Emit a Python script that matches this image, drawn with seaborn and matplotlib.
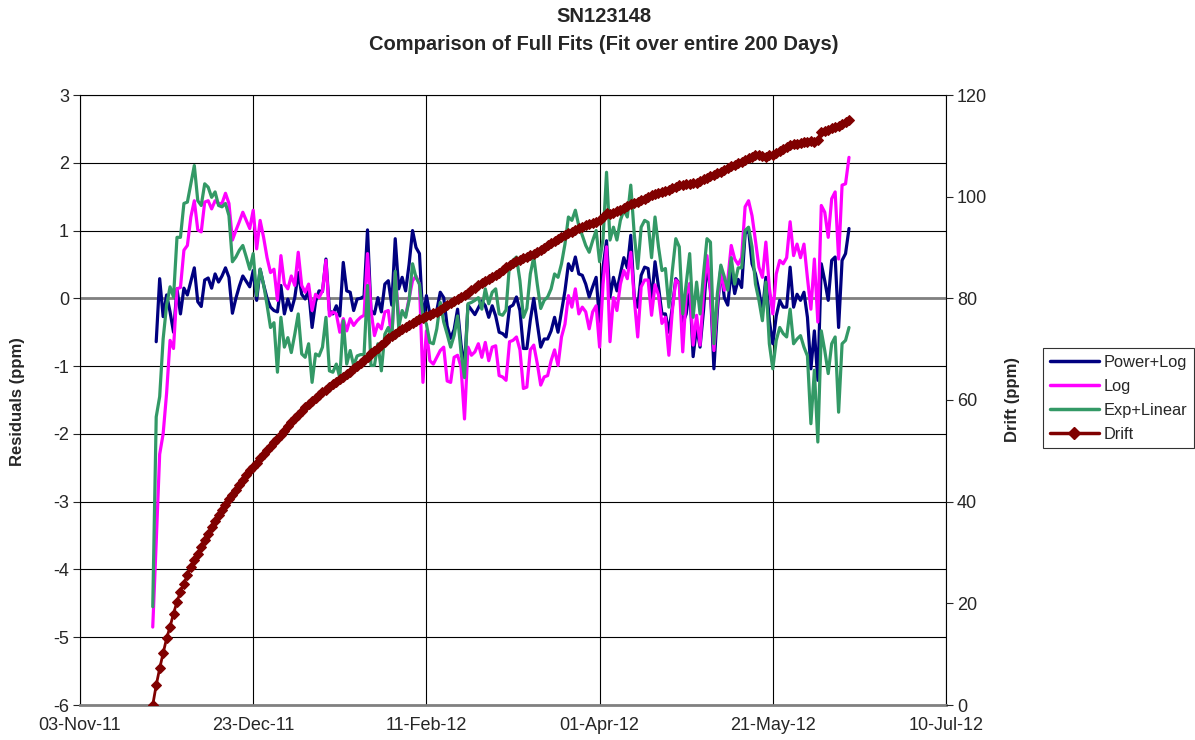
import matplotlib
matplotlib.use("Agg")
import matplotlib.pyplot as plt
import matplotlib.dates as mdates
from matplotlib.lines import Line2D
import seaborn as sns
import pandas as pd
import numpy as np

# daily readings, 24-Nov-2011 onwards
start_date = "2011-11-24"
series_names = ["Power+Log", "Log", "Exp+Linear"]
series_colors = ["#000080", "#FF00FF", "#339966"]
drift_color = "#800000"

power_log = [
    np.nan, -0.64, 0.29, -0.27, 0.05, -0.2, -0.5, 0.14, -0.23, 0.15, 0.05,
    0.25, 0.45, -0.05, -0.12, 0.27, 0.3, 0.15, 0.36, 0.24, 0.33,
    0.45, 0.31, -0.22, 0.0, 0.18, 0.33, 0.25, 0.17, 0.41, -0.03,
    0.43, 0.2, 0.0, -0.13, -0.18, -0.2, 0.19, -0.23, -0.01, -0.18,
    0.01, 0.38, 0.06, -0.01, 0.12, -0.43, -0.05, 0.11, 0.1, 0.58,
    -0.18, -0.23, -0.11, -0.26, 0.53, 0.11, 0.09, -0.18, -0.01, 0.0,
    0.03, 1.01, -0.18, -0.23, 0.01, -0.2, 0.21, 0.26, -0.1, 0.88,
    0.14, 0.31, 0.11, 0.5, 1.0, 0.75, 0.66, -0.33, 0.04, -0.23,
    -0.26, -0.18, 0.09, 0.01, -0.41, -0.59, -0.46, -0.16, -0.68, -1.03,
    -0.1, -0.17, -0.24, -0.14, -0.04, -0.11, -0.28, -0.11, -0.26, -0.5,
    -0.52, -0.57, -0.13, -0.1, 0.02, -0.18, -0.74, -0.74, -0.32, 0.0,
    -0.37, -0.72, -0.6, -0.6, -0.48, -0.28, -0.5, -0.19, 0.11, 0.51,
    0.41, 0.61, 0.36, 0.34, 0.21, 0.02, 0.17, 0.31, -0.35, 0.46,
    0.85, 0.02, 0.31, 0.11, 0.36, 0.6, 0.45, 0.93, 0.02, -0.13,
    0.34, 0.46, 0.44, -0.03, 0.54, 0.17, -0.23, -0.23, -0.5, -0.13,
    0.29, 0.22, -0.37, -0.23, 0.17, -0.86, -0.42, -0.72, -0.18, 0.51,
    0.12, -1.04, -0.18, 0.46, 0.01, -0.1, 0.41, 0.07, 0.28, 0.16,
    0.95, 1.02, 0.51, 0.36, 0.11, -0.21, 0.31, -0.33, -0.67, -0.26,
    -0.03, -0.13, -0.13, 0.46, -0.13, 0.06, -0.03, 0.09, -0.28, -1.04,
    -0.48, -1.21, 0.51, 0.26, -0.03, 0.56, 0.61, -0.43, 0.56, 0.66,
    1.03,
]

log_fit = [
    -4.85, -3.6, -2.3, -2.0, -1.4, -0.62, -0.74, 0.14, 0.16, 0.71, 0.78,
    1.2, 1.44, 1.01, 0.98, 1.42, 1.44, 1.32, 1.44, 1.4, 1.4,
    1.55, 1.4, 0.86, 1.0, 1.13, 1.27, 1.15, 1.03, 1.3, 0.73,
    1.15, 0.9, 0.6, 0.38, 0.43, -0.03, 0.63, 0.21, 0.14, 0.33,
    0.19, 0.68, 0.19, 0.09, 0.21, -0.18, 0.06, 0.01, 0.11, 0.56,
    -0.26, -0.2, -0.23, -0.5, -0.3, -0.48, -0.3, -0.4, -0.33, -0.28,
    -0.25, 0.66, -0.18, -0.55, -0.38, -0.45, -0.2, -0.18, -0.6, 0.38,
    -0.28, -0.21, -0.26, 0.0, 0.26, 0.33, 0.21, -1.24, -0.48, -0.92,
    -0.97, -0.87, -0.77, -0.72, -1.22, -1.24, -0.87, -0.84, -1.01, -1.78,
    -0.72, -0.84, -0.79, -0.67, -0.87, -0.65, -0.92, -0.72, -0.7, -1.14,
    -1.16, -1.21, -0.64, -0.62, -0.57, -0.76, -1.33, -1.31, -0.76, -0.69,
    -0.96, -1.28, -1.16, -1.14, -0.92, -0.76, -0.99, -0.57, -0.38, 0.04,
    -0.13, 0.14, -0.23, -0.13, -0.2, -0.45, -0.2, -0.11, -0.72, 0.21,
    0.76, -0.64, 0.01, -0.18, 0.21, 0.41, 0.29, 0.68, 0.0, -0.57,
    0.17, 0.27, 0.27, -0.25, 0.2, 0.05, -0.37, -0.28, -0.84, -0.18,
    0.27, 0.22, -0.79, 0.05, 0.22, -0.69, -0.25, -0.69, 0.08, 0.63,
    0.12, -0.77, -0.05, 0.37, 0.12, 0.27, 0.78, 0.58, 0.5, 0.6,
    1.35, 1.44, 1.22, 0.85, 0.46, 0.31, 0.83, 0.16, -0.23, 0.36,
    0.56, 0.51, 0.6, 1.13, 0.63, 0.8, 0.6, 0.8, 0.3, -0.16,
    0.58, -0.35, 1.37, 1.27, 0.9, 1.47, 1.57, 0.58, 1.67, 1.69,
    2.08,
]

exp_linear = [
    -4.55, -1.75, -1.45, -0.6, -0.1, 0.17, 0.02, 0.9, 0.9, 1.4, 1.42,
    1.69, 1.96, 1.44, 1.37, 1.69, 1.64, 1.49, 1.57, 1.37, 1.35,
    1.4, 1.22, 0.54, 0.61, 0.71, 0.78, 0.61, 0.43, 0.66, 0.04,
    0.43, 0.2, -0.1, -0.43, -0.36, -1.09, -0.28, -0.72, -0.58, -0.8,
    -0.53, -0.23, -0.82, -0.87, -0.67, -1.24, -0.82, -0.85, -0.72, -0.28,
    -1.07, -1.09, -0.97, -1.17, -0.33, -0.97, -0.77, -0.99, -0.85, -0.83,
    -0.83, 0.19, -0.99, -0.99, -0.67, -1.07, -0.53, -0.43, -0.6, 0.4,
    -0.43, -0.18, -0.28, -0.03, 0.51, 0.31, 0.21, -0.28, -0.38, -0.65,
    -0.67, -0.45, -0.06, -0.35, -0.53, -0.72, -0.55, -0.26, -0.8, -1.17,
    -0.08, -0.06, -0.03, 0.01, -0.16, 0.14, -0.08, 0.09, 0.14, -0.23,
    -0.25, -0.17, 0.51, 0.56, 0.61, 0.26, -0.28, -0.15, 0.36, 0.61,
    0.21, -0.15, -0.03, 0.02, 0.14, 0.36, 0.31, 0.51, 0.8, 1.2,
    1.15, 1.3, 1.07, 0.93, 0.78, 0.68, 0.85, 1.0, 0.54, 0.88,
    1.86, 0.86, 1.05, 0.86, 1.15, 1.3, 1.2, 1.67, 0.95, 0.44,
    1.05, 1.15, 1.12, 0.6, 1.2, 0.76, 0.41, 0.44, -0.13, 0.41,
    0.88, 0.76, -0.23, 0.21, 0.66, -0.28, 0.24, -0.23, 0.36, 0.88,
    0.83, -0.67, 0.07, 0.49, 0.32, 0.12, 0.6, 0.21, 0.45, 0.45,
    1.0, 1.05, 0.76, 0.21, -0.03, -0.33, 0.24, -0.67, -1.04, -0.62,
    -0.43, -0.52, -0.57, -0.16, -0.67, -0.6, -0.55, -0.72, -0.85, -1.85,
    -1.06, -2.12, -0.48, -0.77, -1.11, -0.67, -0.57, -1.68, -0.67, -0.62,
    -0.43,
]

drift = [
    0.0, 3.9, 7.2, 10.2, 13.1, 15.4, 18.0, 20.3, 22.3, 23.9, 25.6,
    27.2, 28.5, 29.8, 31.1, 32.5, 33.6, 35.0, 36.1, 37.4, 38.4,
    39.3, 40.5, 41.3, 42.3, 43.3, 44.3, 45.2, 46.2, 46.9, 47.6,
    48.5, 49.3, 50.2, 51.0, 51.7, 52.4, 53.1, 53.9, 54.8, 55.7,
    56.4, 57.1, 57.8, 58.6, 59.3, 59.8, 60.4, 60.9, 61.5, 62.0,
    62.6, 63.1, 63.6, 64.1, 64.6, 65.1, 65.6, 66.2, 66.7, 67.2,
    67.8, 68.5, 69.2, 69.7, 70.3, 70.9, 71.5, 72.1, 72.5, 73.0,
    73.5, 74.0, 74.4, 74.8, 75.2, 75.6, 75.9, 76.2, 76.5, 76.8,
    77.1, 77.4, 77.8, 78.2, 78.6, 79.0, 79.4, 79.8, 80.2, 80.6,
    81.1, 81.6, 82.1, 82.6, 83.0, 83.4, 83.8, 84.2, 84.6, 85.0,
    85.6, 86.1, 86.6, 87.0, 87.3, 87.6, 87.9, 88.2, 88.5, 88.8,
    89.2, 89.6, 90.0, 90.4, 90.8, 91.2, 91.6, 92.0, 92.4, 92.8,
    93.1, 93.5, 93.8, 94.1, 94.4, 94.6, 94.9, 95.1, 95.4, 96.0,
    96.7, 96.5, 96.8, 97.1, 97.4, 97.8, 98.2, 98.6, 98.8, 99.0,
    99.3, 99.6, 99.9, 100.3, 100.6, 100.8, 101.0, 101.1, 101.3, 101.7,
    102.0, 102.3, 102.3, 102.4, 102.5, 102.6, 102.6, 103.0, 103.4, 103.7,
    104.0, 104.3, 104.6, 104.9, 105.2, 105.6, 106.0, 106.3, 106.6, 106.9,
    107.3, 107.7, 107.9, 108.1, 108.2, 108.0, 107.9, 108.1, 108.2, 108.5,
    108.9, 109.3, 109.7, 110.2, 110.3, 110.4, 110.6, 110.7, 110.8, 111.0,
    110.8, 111.2, 112.8, 113.0, 113.2, 113.5, 113.8, 114.0, 114.3, 114.7,
    115.0,
]

x_ticks = pd.date_range("2011-11-03", "2012-07-10", freq="50D")
left_ticks = list(range(-6, 4))
right_ticks = list(range(0, 121, 20))

sns.set_style("white")
plt.rcParams["font.family"] = ["Liberation Sans", "DejaVu Sans"]
plt.rcParams["axes.unicode_minus"] = False

dates = pd.date_range(start_date, periods=len(drift), freq="D")
df = pd.DataFrame({"Date": dates, "Power+Log": power_log, "Log": log_fit,
                   "Exp+Linear": exp_linear})
df_long = df.melt(id_vars="Date", var_name="Series", value_name="Residual").dropna()

fig = plt.figure(figsize=(11.95, 7.40), dpi=100)
ax = fig.add_axes([80 / 1195, 35 / 740, 866 / 1195, 610 / 740])

ax.grid(True, color="black", linewidth=0.8)
ax.set_axisbelow(True)
sns.lineplot(data=df_long, x="Date", y="Residual", hue="Series",
             hue_order=series_names, palette=series_colors, linewidth=2.3,
             legend=False, ax=ax, zorder=3)
ax.axhline(0, color="#808080", linewidth=2, zorder=2)

ax.set_xlim(x_ticks[0], x_ticks[-1])
ax.set_xticks(x_ticks)
ax.xaxis.set_major_formatter(mdates.DateFormatter("%d-%b-%y"))
ax.set_ylim(-6, 3)
ax.set_yticks(left_ticks)
ax.set_xlabel("")
ax.set_ylabel("")
ax.tick_params(axis="x", length=0, pad=9, labelsize=13)
ax.tick_params(axis="y", length=5, width=0.8, direction="out", pad=3, labelsize=13,
               left=True)
for side in ["top", "right", "left"]:
    ax.spines[side].set_color("black")
    ax.spines[side].set_linewidth(0.8)
ax.spines["bottom"].set_color("#808080")
ax.spines["bottom"].set_linewidth(2)

ax2 = ax.twinx()
sns.lineplot(x=dates, y=drift, color=drift_color, linewidth=2, marker="D",
             markersize=5.5, markeredgecolor=drift_color, ax=ax2)
ax2.set_ylim(0, 120)
ax2.set_yticks(right_ticks)
ax2.set_ylabel("")
ax2.tick_params(axis="y", length=5, width=0.8, direction="out", pad=3, labelsize=13,
                right=True)
for side in ax2.spines:
    ax2.spines[side].set_visible(False)

fig.text(0.505, 1 - 16 / 740, "SN123148", ha="center", va="center",
         fontsize=14.5, fontweight="bold")
fig.text(0.505, 1 - 45 / 740, "Comparison of Full Fits (Fit over entire 200 Days)",
         ha="center", va="center", fontsize=14.5, fontweight="bold")
fig.text(18 / 1195, 1 - 402 / 740, "Residuals (ppm)", rotation=90, ha="center",
         va="center", fontsize=12, fontweight="bold")
fig.text(1012 / 1195, 1 - 400 / 740, "Drift (ppm)", rotation=90, ha="center",
         va="center", fontsize=12, fontweight="bold")

handles = [Line2D([], [], color=c, linewidth=2.5) for c in series_colors]
handles.append(Line2D([], [], color=drift_color, linewidth=2.5, marker="D",
                      markersize=6))
leg = fig.legend(handles, series_names + ["Drift"], loc="upper left",
                 bbox_to_anchor=(1043 / 1195, 1 - 348 / 740), frameon=True,
                 fancybox=False, edgecolor="black", fontsize=11.8,
                 handlelength=3.0, handletextpad=0.3, borderpad=0.4,
                 labelspacing=0.55, borderaxespad=0)
leg.get_frame().set_linewidth(0.8)

fig.savefig("out.png", dpi=100)
